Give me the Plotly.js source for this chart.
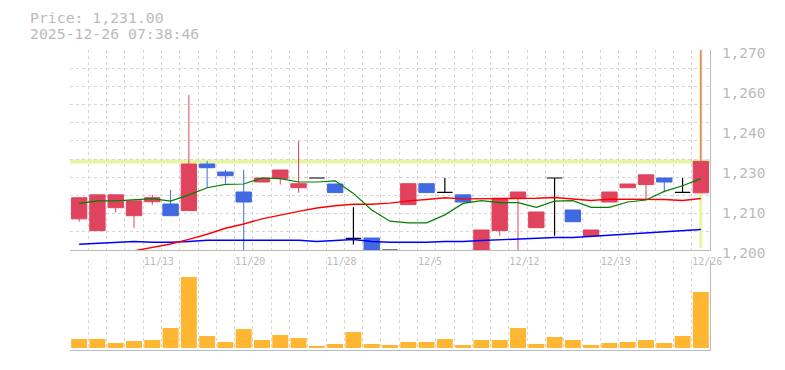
<!DOCTYPE html>
<html><head><meta charset="utf-8">
<script src="https://cdn.plot.ly/plotly-3.0.1.min.js"></script>
<style>html,body{margin:0;padding:0;background:#fff;}#chart{width:785px;height:370px;}</style>
</head><body><div id="chart"></div>
<script>
// ---- data ----
const dates = ['11/7','11/10','11/11','11/12','11/13','11/14','11/17','11/18','11/19','11/20','11/21',
  '11/25','11/26','11/27','11/28','12/1','12/2','12/3','12/4','12/5','12/8','12/9','12/10','12/11','12/12',
  '12/15','12/16','12/17','12/18','12/19','12/22','12/23','12/24','12/25','12/26'];
const openP  = [1210.9,1206.8,1214.8,1212.0,1216.9,1216.1,1213.8,1230.1,1227.3,1220.3,1223.8,
  1225.0,1221.8,1225.2,1223.1,1204.1,1204.2,1200.0,1215.9,1223.2,1220.2,1219.3,1200.0,1206.8,1218.1,
  1207.8,1225.2,1214.0,1204.9,1216.8,1221.8,1222.9,1225.2,1220.2,1220.0];
const highP  = [1218.3,1219.3,1219.3,1217.2,1219.3,1221.0,1254.3,1231.2,1228.0,1228.0,1225.2,
  1228.0,1238.2,1225.2,1223.1,1215.0,1204.2,1200.0,1223.2,1223.2,1225.2,1219.3,1207.0,1218.1,1220.3,
  1213.3,1225.2,1214.0,1207.0,1220.3,1223.1,1226.3,1225.2,1225.2,1278.0];
const lowP   = [1209.9,1206.8,1213.1,1207.8,1215.8,1212.0,1213.8,1221.8,1223.2,1199.8,1223.8,
  1222.9,1220.1,1225.2,1220.1,1201.9,1200.0,1200.0,1215.9,1220.1,1220.2,1216.8,1200.0,1205.0,1200.0,
  1207.8,1205.0,1209.9,1204.9,1216.8,1221.8,1217.7,1220.2,1220.2,1220.0];
const closeP = [1218.3,1219.3,1219.3,1217.2,1218.3,1212.0,1230.1,1228.8,1226.0,1216.8,1225.2,
  1228.0,1223.2,1225.2,1220.1,1204.1,1200.0,1200.0,1223.2,1220.1,1220.2,1216.8,1207.0,1218.1,1220.3,
  1213.3,1225.2,1209.9,1207.0,1220.3,1223.1,1226.3,1223.8,1220.2,1231.0];
const ma5  = [1216.3,1217.2,1217.2,1217.5,1218.0,1217.1,1219.3,1221.8,1223.0,1223.1,1225.2,
  1225.0,1223.8,1223.8,1224.2,1219.8,1214.0,1210.1,1209.5,1209.5,1212.3,1216.3,1217.3,1216.6,1216.6,
  1214.9,1217.1,1217.3,1214.9,1214.9,1216.8,1217.5,1220.5,1222.5,1225.0];
const ma25 = [null,null,null,1199.7,1200.8,1202.1,1203.7,1205.5,1207.6,1209.1,1210.9,
  1212.3,1213.5,1214.7,1215.5,1216.0,1216.0,1216.4,1217.2,1217.7,1218.3,1217.9,1217.9,1218.1,1218.1,
  1218.1,1218.4,1217.9,1217.3,1217.8,1217.8,1217.7,1217.7,1217.3,1218.0];
const ma75 = [1202.0,1202.3,1202.7,1203.0,1202.7,1202.7,1203.0,1203.4,1203.4,1203.4,1203.4,
  1203.4,1203.4,1203.0,1203.4,1203.7,1203.0,1202.7,1202.7,1202.7,1203.0,1203.0,1203.3,1203.6,1203.7,
  1204.2,1204.4,1204.4,1204.8,1205.2,1205.5,1206.0,1206.4,1206.9,1207.2];
const volume = [90,90,50,70,80,200,710,120,60,190,80,
  130,100,20,40,160,40,30,60,60,90,30,80,80,200,
  40,110,80,30,50,60,80,50,120,560];
const priceTickVals = [1200,1214,1228,1242,1256,1270];
const priceTickText = ['1,200','1,210','1,230','1,240','1,260','1,270'];
const priceRange = [1200,1270];
const gridSteps = 11;
const lastPriceText = 'Price: 1,231.00';
const timestamp = '2025-12-26 07:38:46';

// ---- build ----
const idx = dates.map((d,i)=>i);
const last = idx.length-1;
const isDoji = i => openP[i] === closeP[i];
const pick = (arr, cond) => arr.map((v,i)=> cond(i) ? v : null);
const mono = 'DejaVu Sans Mono';
const gray = '#bbbbbb';
const gridC = '#d6d6d6';
const gdash = '3px,3px';
const red = '#e0435e', blue = '#4169e1', hl = '#e6f5a0';

const traces = [
  {type:'scatter', x:[], y:[], xaxis:'x', yaxis:'y3', hoverinfo:'skip', showlegend:false},
  {type:'scatter', mode:'lines', x:idx, y:ma75, line:{color:'#0000ff', width:1.4}, hoverinfo:'skip'},
  {type:'scatter', mode:'lines', x:idx, y:ma25, line:{color:'#ff0000', width:1.4}, hoverinfo:'skip'},
  {type:'scatter', mode:'lines', x:idx, y:ma5,  line:{color:'#008000', width:1.2}, hoverinfo:'skip'},
  {type:'candlestick', x:idx,
    open:pick(openP,i=>!isDoji(i)), high:pick(highP,i=>!isDoji(i)),
    low:pick(lowP,i=>!isDoji(i)), close:pick(closeP,i=>!isDoji(i)),
    increasing:{line:{color:red,width:1}, fillcolor:red},
    decreasing:{line:{color:blue,width:1}, fillcolor:blue},
    whiskerwidth:0, hoverinfo:'skip'},
  {type:'candlestick', x:idx,
    open:pick(openP,isDoji), high:pick(highP,isDoji),
    low:pick(lowP,isDoji), close:pick(closeP,isDoji),
    increasing:{line:{color:'#000',width:1.2}, fillcolor:'#000'},
    decreasing:{line:{color:'#000',width:1.2}, fillcolor:'#000'},
    whiskerwidth:0, hoverinfo:'skip'},
  {type:'bar', x:idx, y:volume, xaxis:'x2', yaxis:'y2', width:0.875,
    marker:{color:'#ffb733', line:{width:0}}, hoverinfo:'skip'}
];

const gridVals = idx.map(i=>i-0.5);
const layout = {
  width:785, height:370,
  margin:{l:70, r:75, t:50, b:20},
  paper_bgcolor:'#fff', plot_bgcolor:'#fff',
  showlegend:false, hovermode:false,
  boxgap:0.16, boxgroupgap:0,
  title:{text:lastPriceText, xref:'container', yref:'container', x:30/785, xanchor:'left',
    y:1-18/370, yanchor:'middle', font:{family:mono, size:14.8, color:gray}},
  annotations:[{text:timestamp, xref:'paper', yref:'paper', x:-42/640, xanchor:'left',
    y:(300-(33-50))/300, yanchor:'middle', showarrow:false,
    font:{family:mono, size:14.8, color:gray}}],
  xaxis:{domain:[0,1], anchor:'y', range:[-0.5, last+0.5], rangeslider:{visible:false},
    tickmode:'array', tickvals:gridVals, ticktext:idx.map(i=> i%5===4 ? dates[i] : ''),
    showgrid:true, griddash:gdash, gridcolor:gridC, gridwidth:1,
    ticks:'', showline:true, linecolor:gray, linewidth:1, zeroline:false,
    ticklabelposition:'outside right', ticklabelstandoff:2,
    tickfont:{family:mono, size:10, color:gray}, fixedrange:true},
  yaxis:{domain:[1/3,1], anchor:'x', side:'right', range:priceRange,
    tickmode:'array', tickvals:priceTickVals, ticktext:priceTickText,
    showgrid:false, zeroline:false, showline:true, linecolor:gray, linewidth:1,
    ticks:'', ticklabelstandoff:8, ticklabelshift:3,
    tickfont:{family:mono, size:14.5, color:gray}, fixedrange:true},
  yaxis3:{overlaying:'y', side:'right', anchor:'x', range:[0,gridSteps], dtick:1, tick0:0,
    showgrid:true, griddash:gdash, gridcolor:gridC, gridwidth:1,
    showticklabels:false, showline:false, zeroline:false, ticks:'', fixedrange:true},
  xaxis2:{domain:[0,1], anchor:'y2', range:[-0.5, last+0.5],
    tickmode:'array', tickvals:gridVals, showticklabels:false,
    showgrid:true, griddash:gdash, gridcolor:gridC, gridwidth:1,
    ticks:'', showline:true, linecolor:gray, linewidth:1, zeroline:false, fixedrange:true},
  yaxis2:{domain:[0,0.3], anchor:'x2', side:'right', range:[-20, 880],
    showgrid:false, showticklabels:false, zeroline:false, showline:true,
    linecolor:gray, linewidth:1, ticks:'', fixedrange:true},
  shapes:[
    {type:'line', layer:'between', xref:'paper', x0:0, x1:1, yref:'y',
      y0:closeP[last], y1:closeP[last], line:{color:hl, width:4}},
    {type:'line', layer:'between', xref:'x', x0:idx[last], x1:idx[last], yref:'y',
      y0:priceRange[0]+0.7, y1:priceRange[1], line:{color:hl, width:3}}
  ]
};
Plotly.newPlot('chart', traces, layout, {displayModeBar:false, staticPlot:true});
</script>
</body></html>
